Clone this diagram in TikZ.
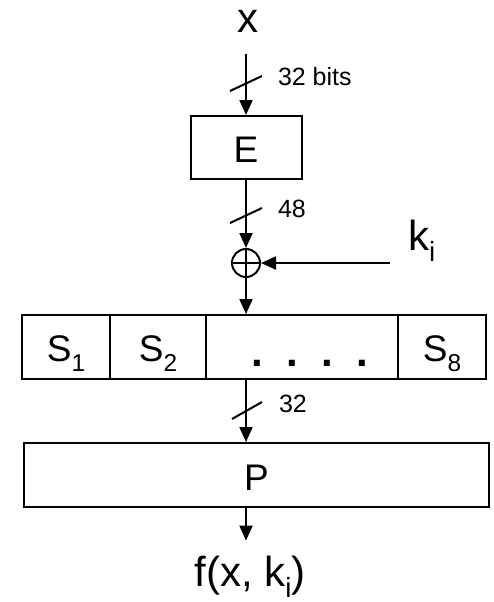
\documentclass[tikz,border=0pt]{standalone}
\usepackage{fontspec}
\setmainfont{Liberation Sans}
\usetikzlibrary{arrows.meta}

\newcommand{\lowsub}[1]{\raisebox{-0.27em}{\scalebox{0.66}{#1}}}

\begin{document}
\begin{tikzpicture}[
  x=1pt, y=-1pt, line width=2pt,
  blk/.style={draw, inner sep=0pt, text height=30pt, text depth=0pt,
              font=\fontsize{37}{37}\selectfont},
  sbox/.style={blk, minimum height=64pt, text height=29pt},
  big/.style={inner sep=0pt, font=\fontsize{42}{42}\selectfont},
  width/.style={inner sep=0pt, anchor=base west, xshift=31pt, yshift=-1.5pt,
                font=\fontsize{25}{25}\selectfont},
  arr/.style={-{Triangle[length=15pt, width=13pt]}},
]
  \useasboundingbox (0,0) rectangle (493,602);
  % Entrada y expansion
  \node[big, anchor=base]  (x)   at (248,33)    {x};
  \node[blk, minimum width=111pt, minimum height=63pt] (E) at (246,147.5) {E};
  % XOR con la subclave
  \node[draw, circle, minimum size=28pt, inner sep=0pt] (xor) at (246,263) {};
  \draw (xor.north) -- (xor.south) (xor.west) -- (xor.east);
  \node[big, anchor=base west] (k) at (407,250) {k\lowsub{i}};
  % Fila de cajas S
  \node[sbox, minimum width=88pt]  (s1) at (66,347)  {S\lowsub{1}};
  \node[sbox, minimum width=96pt]  (s2) at (158,347) {S\lowsub{2}};
  \node[sbox, minimum width=192pt, text height=39pt,
        font=\bfseries\fontsize{42}{42}\selectfont] (sd) at (302,347)
        {\hspace*{16pt}.\hspace{23.3pt}.\hspace{23.3pt}.\hspace{23.3pt}.};
  \node[sbox, minimum width=88pt]  (s8) at (442,347) {S\lowsub{8}};
  % Permutacion y salida
  \node[blk, minimum width=465pt, minimum height=64pt] (P) at (256.5,475) {P};
  \node[big, anchor=base]  (f)   at (250,586)   {f(x, k\lowsub{i})};
  % Marcas de ancho de bus
  \coordinate (c1) at (246,83.5);
  \coordinate (c2) at (246,215.5);
  \coordinate (c3) at (247,410.5);
  \draw (c1) +(-16,7.5) -- +(16,-7.5);
  \draw (c2) +(-16,7.5) -- +(16,-7.5);
  \draw (c3) +(-15,8.5) -- +(15,-8.5);
  \node[width] (w1) at (c1) {32 bits};
  \node[width] (w2) at (c2) {48};
  \node[width] (w3) at (c3) {32};
  % Flechas
  \draw[arr, shorten <=20pt] (x.south -| E.north) -- (E.north);
  \draw[arr] (E.south) -- (xor.north);
  \draw[arr, shorten <=17pt] (k.west |- xor) -- (xor.east);
  \draw[arr] (xor.south) -- (xor |- sd.north);
  \draw[arr] (xor |- sd.south) -- (xor |- P.north);
  \draw[arr, shorten >=14pt] (xor |- P.south) -- (xor |- f.north);
\end{tikzpicture}
\end{document}
